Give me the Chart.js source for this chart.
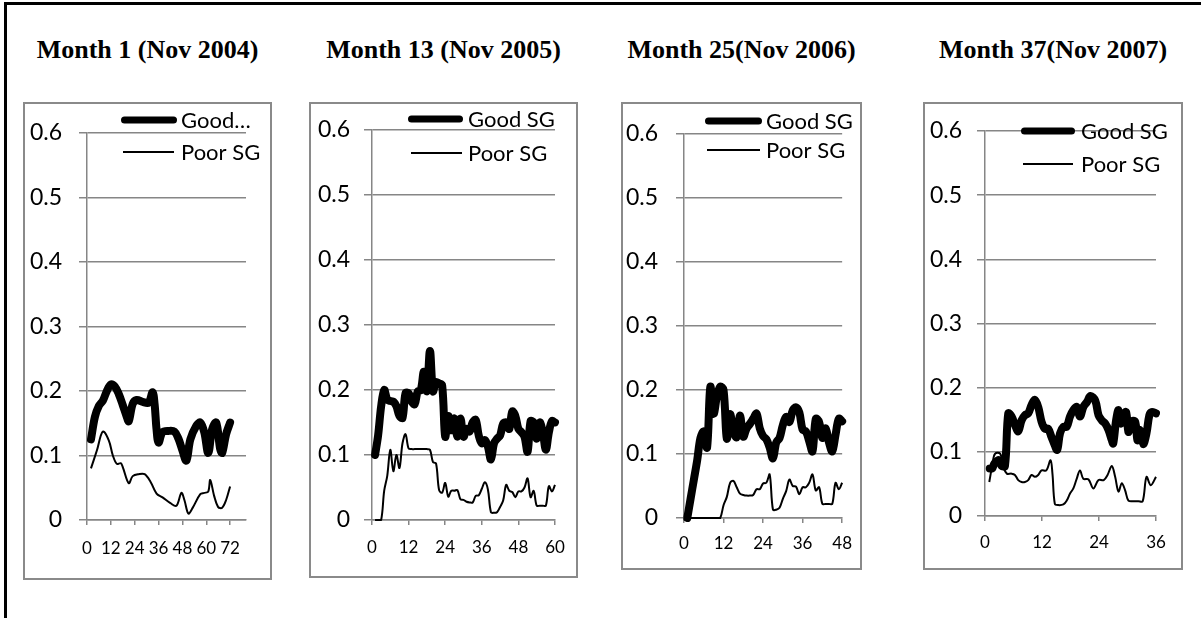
<!DOCTYPE html>
<html><head><meta charset="utf-8">
<script src="https://cdn.jsdelivr.net/npm/chart.js@4.4.0/dist/chart.umd.min.js"></script>
<style>
html,body{margin:0;padding:0;background:#fff;}
body{width:1201px;height:618px;position:relative;overflow:hidden;}
#frame{position:absolute;left:4px;top:2px;width:1300px;height:700px;border-left:3px solid #000;border-top:3px solid #000;}
.title{position:absolute;font-family:"Liberation Serif","Times New Roman",serif;font-weight:bold;font-size:26px;line-height:26px;text-align:center;color:#000;white-space:nowrap;}
.panel{position:absolute;box-sizing:border-box;border:2px solid #8a8a8a;}
canvas{position:absolute;}
</style></head><body>
<div id="frame"></div>
<script>
// ---------- data ----------
const titles = ["Month 1 (Nov 2004)", "Month 13 (Nov 2005)", "Month 25(Nov 2006)", "Month 37(Nov 2007)"];
const goodNames = ["Good\u2026", "Good SG", "Good SG", "Good SG"];
const poorName = "Poor SG";
const xMaxes = [80, 60, 48, 36];
const xStep = 12;
const yMax = 0.6;
const yStep = 0.1;

// Panel 1 (Month 1)
const p1GoodMonths = [2,4,6,8,10,12,14,16,18,20,21,23,25,28,31,33,34,35,36,38,41,44,46,48,50,52,55,57,59,61,63,65,67,68,70,72];
const p1Good = [0.125,0.16,0.177,0.185,0.2,0.21,0.207,0.195,0.178,0.16,0.153,0.18,0.186,0.183,0.182,0.198,0.18,0.14,0.12,0.136,0.138,0.137,0.126,0.108,0.092,0.125,0.146,0.151,0.136,0.104,0.141,0.151,0.11,0.104,0.133,0.151];
const p1PoorMonths = [2,5,8,11,13,15,17,18,21,23,26,29,32,35,38,42,45,47.5,49,51,53,57,59,61,62,64,66,68,70,72];
const p1Poor = [0.08,0.108,0.137,0.123,0.1,0.087,0.088,0.082,0.057,0.068,0.071,0.071,0.059,0.041,0.035,0.026,0.022,0.042,0.031,0.01,0.018,0.04,0.042,0.044,0.062,0.037,0.02,0.019,0.031,0.052];

// Panel 2 (Month 13)
const p2Months = [1,2,3,4,5,6,7,8,9,10,11,12,13,14,15,16,17,18,19,20,21,22,23,24,25,26,27,28,29,30,31,32,33,34,35,36,37,38,39,40,41,42,43,44,45,46,47,48,49,50,51,52,53,54,55,56,57,58,59,60];
const p2Good = [0.10,0.13,0.175,0.2,0.185,0.183,0.182,0.175,0.16,0.157,0.195,0.195,0.182,0.178,0.198,0.2,0.228,0.198,0.26,0.198,0.212,0.21,0.207,0.128,0.16,0.138,0.156,0.128,0.156,0.128,0.14,0.136,0.15,0.154,0.13,0.118,0.123,0.113,0.093,0.118,0.125,0.13,0.148,0.15,0.14,0.167,0.16,0.14,0.135,0.128,0.105,0.152,0.15,0.125,0.15,0.135,0.108,0.135,0.152,0.15];
const p2Poor = [0,0,0,0.045,0.068,0.108,0.075,0.1,0.08,0.118,0.132,0.11,0.109,0.109,0.109,0.109,0.109,0.109,0.108,0.089,0.087,0.046,0.042,0.057,0.036,0.045,0.045,0.046,0.032,0.031,0.028,0.027,0.027,0.037,0.038,0.048,0.058,0.047,0.012,0.011,0.012,0.02,0.03,0.054,0.045,0.043,0.035,0.044,0.044,0.05,0.064,0.035,0.045,0.022,0.022,0.022,0.022,0.052,0.044,0.054];

// Panel 3 (Month 25)
const p3Months = [1,2,3,4,5,6,7,8,9,10,11,12,13,14,15,16,17,18,19,20,21,22,23,24,25,26,27,28,29,30,31,32,33,34,35,36,37,38,39,40,41,42,43,44,45,46,47,48];
const p3Good = [0,0.03,0.06,0.09,0.125,0.135,0.11,0.205,0.163,0.19,0.205,0.2,0.124,0.162,0.135,0.126,0.16,0.127,0.14,0.147,0.155,0.163,0.14,0.128,0.123,0.11,0.093,0.118,0.125,0.145,0.158,0.15,0.168,0.173,0.165,0.138,0.135,0.12,0.104,0.155,0.15,0.125,0.14,0.118,0.104,0.13,0.155,0.151];
const p3Poor = [0,0,0,0,0,0,0,0,0,0,0,0.02,0.033,0.055,0.058,0.048,0.038,0.036,0.035,0.035,0.036,0.045,0.045,0.054,0.055,0.068,0.013,0.013,0.016,0.03,0.042,0.06,0.05,0.049,0.037,0.048,0.048,0.055,0.068,0.043,0.048,0.022,0.022,0.022,0.022,0.055,0.045,0.055];

// Panel 4 (Month 37)
const p4GoodMonths = [1,1.5,2,3,3.5,4.2,4.9,5.6,6.3,7,7.7,8.4,9.1,9.8,10.5,11.2,11.9,12.6,13.3,14,14.7,15.2,15.8,16.5,17.2,17.9,18.6,19.3,20,20.7,21.5,22.2,23.2,23.9,24.6,25.3,26,26.7,27,27.6,28.1,28.6,29.1,29.7,30.2,30.7,31.6,32.1,32.6,33.3,34,34.6,35.1,36];
const p4Good = [0.074,0.074,0.082,0.087,0.078,0.078,0.16,0.155,0.142,0.132,0.149,0.157,0.16,0.173,0.181,0.17,0.147,0.136,0.136,0.123,0.11,0.103,0.129,0.139,0.139,0.155,0.165,0.17,0.155,0.17,0.178,0.187,0.18,0.157,0.149,0.144,0.134,0.118,0.113,0.149,0.165,0.144,0.157,0.162,0.131,0.147,0.147,0.118,0.134,0.112,0.129,0.157,0.162,0.16];
const p4PoorMonths = [0.9,1.6,2.1,3.2,3.9,4.6,5.6,6.3,7,7.7,8.4,9.1,9.8,10.5,11.2,11.9,12.9,13.8,14.2,14.7,15.4,16.5,17.2,17.9,18.6,19.3,20,20.7,21.8,22.8,23.9,25,25.8,26.7,27.4,28.1,28.8,29.5,30.2,31.3,32.3,33.2,34,34.9,36];
const p4Poor = [0.053,0.082,0.097,0.097,0.076,0.066,0.066,0.064,0.056,0.053,0.053,0.056,0.064,0.061,0.064,0.071,0.071,0.087,0.066,0.019,0.017,0.018,0.024,0.035,0.043,0.058,0.071,0.058,0.057,0.043,0.056,0.056,0.064,0.078,0.061,0.038,0.051,0.04,0.024,0.023,0.023,0.023,0.061,0.048,0.061];

// ---------- layout / style (page pixel positions) ----------
const panels = [
  {box:[23,102,272,580], plot:[87,129,246,520], good:[121,177,120], poor:[123,174,152], tx:181, yPad:17, xPad:13},
  {box:[309,102,578,578], plot:[372,129,555,520], good:[408,463,119], poor:[411,462,153], tx:468, yPad:14, xPad:12},
  {box:[621,102,862,570], plot:[684,130,852,518], good:[705,762,121], poor:[707,760,150], tx:766, yPad:18, xPad:10},
  {box:[923,102,1183,570], plot:[985,131,1156,516], good:[1021,1075,131], poor:[1023,1073,164], tx:1081, yPad:15, xPad:11}
];
const gridColor = '#868686';
const pts = (xs, ys) => xs.map((x, i) => ({x: x, y: ys[i]}));
const seriesData = [
  [pts(p1GoodMonths, p1Good), pts(p1PoorMonths, p1Poor)],
  [pts(p2Months, p2Good), pts(p2Months, p2Poor)],
  [pts(p3Months, p3Good), pts(p3Months, p3Poor)],
  [pts(p4GoodMonths, p4Good), pts(p4PoorMonths, p4Poor)]
];

function legendPlugin(idx) {
  const L = panels[idx];
  const ox = L.box[0], oy = L.box[1];
  return {
    id: 'manualLegend' + idx,
    afterDraw(chart) {
      const c = chart.ctx;
      c.save();
      c.strokeStyle = '#000';
      c.lineCap = 'round';
      c.lineWidth = 7;
      c.beginPath();
      c.moveTo(L.good[0] - ox + 3.5, L.good[2] - oy);
      c.lineTo(L.good[1] - ox - 3.5, L.good[2] - oy);
      c.stroke();
      c.lineCap = 'butt';
      c.lineWidth = 1.8;
      c.beginPath();
      c.moveTo(L.poor[0] - ox, L.poor[2] - oy);
      c.lineTo(L.poor[1] - ox, L.poor[2] - oy);
      c.stroke();
      c.fillStyle = '#000';
      c.font = '22px Lato';
      c.textBaseline = 'middle';
      c.textAlign = 'left';
      c.fillText(goodNames[idx], L.tx - ox, L.good[2] - oy + 1);
      c.fillText(poorName, L.tx - ox, L.poor[2] - oy + 1);
      c.restore();
    }
  };
}

function build() {
  panels.forEach((L, idx) => {
    const [bl, bt, br, bb] = L.box;
    const [pl, pt, pr, pb] = L.plot;
    const w = br - bl, h = bb - bt;

    const t = document.createElement('div');
    t.className = 'title';
    t.style.left = bl + 'px'; t.style.top = '37px'; t.style.width = w + 'px';
    t.textContent = titles[idx];
    document.body.appendChild(t);

    const p = document.createElement('div');
    p.className = 'panel';
    p.style.left = bl + 'px'; p.style.top = bt + 'px';
    p.style.width = w + 'px'; p.style.height = h + 'px';
    document.body.appendChild(p);

    const cv = document.createElement('canvas');
    cv.width = w; cv.height = h;
    cv.style.left = bl + 'px'; cv.style.top = bt + 'px';
    cv.style.width = w + 'px'; cv.style.height = h + 'px';
    document.body.appendChild(cv);

    new Chart(cv.getContext('2d'), {
      type: 'line',
      data: {
        datasets: [
          {label: 'Good SG', data: seriesData[idx][0], borderColor: '#000', backgroundColor: '#000',
           borderWidth: 8, borderCapStyle: 'round', borderJoinStyle: 'round', pointRadius: 0, tension: 0.35, clip: false, fill: false},
          {label: poorName, data: seriesData[idx][1], borderColor: '#000', backgroundColor: '#000',
           borderWidth: 2, borderJoinStyle: 'round', pointRadius: 0, tension: 0.35, clip: false, fill: false}
        ]
      },
      options: {
        responsive: false, animation: false, events: [],
        layout: {padding: {left: 0, top: pt - bt, right: br - pr, bottom: 0}},
        plugins: {legend: {display: false}, tooltip: {enabled: false}, title: {display: false}},
        scales: {
          x: {
            type: 'linear', min: 0, max: xMaxes[idx],
            afterFit(s) { s.height = bb - pb; },
            ticks: {stepSize: xStep, includeBounds: false, autoSkip: false, maxRotation: 0, minRotation: 0,
                    color: '#000', font: {family: 'Lato', size: 17}, padding: L.xPad},
            grid: {drawOnChartArea: false, drawTicks: true, tickLength: 5, color: gridColor, lineWidth: 1.5},
            border: {display: true, color: gridColor, width: 1.5}
          },
          y: {
            min: 0, max: yMax,
            afterFit(s) { s.width = pl - bl; },
            ticks: {stepSize: yStep, color: '#000', font: {family: 'Lato', size: 23}, padding: L.yPad,
                    callback: v => (Math.abs(v) < 1e-9 ? '0' : (Math.round(v * 10) / 10).toFixed(1))},
            grid: {color: gridColor, lineWidth: 1.5, tickLength: 8, drawTicks: true},
            border: {display: true, color: gridColor, width: 1.5}
          }
        }
      },
      plugins: [legendPlugin(idx)]
    });
  });
}

if (document.fonts && document.fonts.load) {
  Promise.all([document.fonts.load('23px Lato'), document.fonts.load('17px Lato'), document.fonts.load('bold 26px "Liberation Serif"')])
    .then(build, build);
} else { build(); }
</script>
</body></html>
